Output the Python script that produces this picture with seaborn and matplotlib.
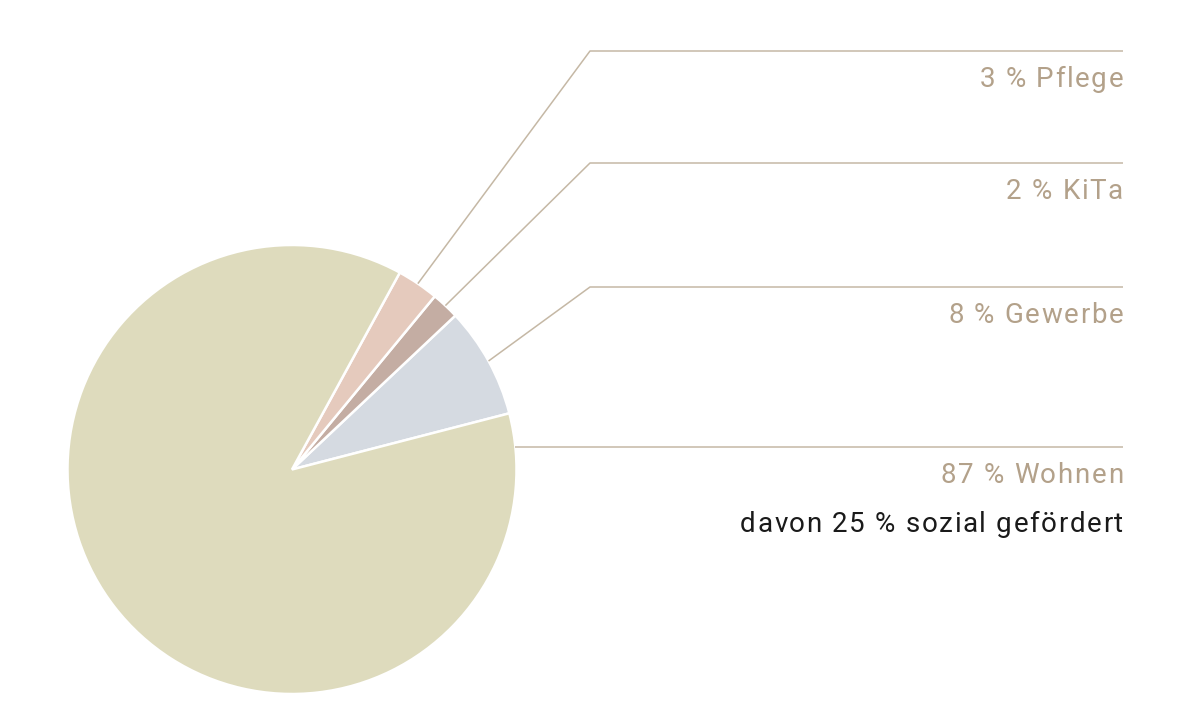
import numpy as np
import matplotlib
matplotlib.use("Agg")
import matplotlib.pyplot as plt
from matplotlib.font_manager import FontProperties
from matplotlib.textpath import TextToPath
import seaborn as sns

# data
labels = ["Gewerbe", "KiTa", "Pflege", "Wohnen"]
shares = [8, 2, 3, 87]
colors = ["#d5dae1", "#c4ada3", "#e5cabd", "#dedbbd"]
label_texts = ["8 % Gewerbe", "2 % KiTa", "3 % Pflege", "87 % Wohnen"]
sub_text = "davon 25 % sozial gefördert"

sns.set_theme(style="white")
plt.rcParams["font.family"] = ["Roboto", "DejaVu Sans"]

W, H = 1200, 724
DPI = 100
fig = plt.figure(figsize=(W / DPI, H / DPI), dpi=DPI)
ax = fig.add_axes([0, 0, 1, 1])

cx, cy, r = 292, H - 469.5, 224.5
wedges, _ = ax.pie(shares, colors=colors, startangle=14.5, counterclock=True,
                   center=(cx, cy), radius=r,
                   wedgeprops=dict(edgecolor="white", linewidth=1.8))
ax.set_xlim(0, W)
ax.set_ylim(0, H)
ax.set_aspect("equal")
ax.axis("off")

FS = 20
prop = FontProperties(family="Roboto", weight="normal", size=FS)
t2p = TextToPath()


def tracked_text(x_right, y, s, color, track=1.6):
    # letter-spaced text, right aligned at x_right (pixel units)
    widths = [t2p.get_text_width_height_descent(c, prop, ismath=False)[0] * DPI / 72
              for c in s]
    total = sum(widths) + track * (len(s) - 1)
    x = x_right - total
    for c, w in zip(s, widths):
        ax.text(x, y, c, ha="left", va="baseline", fontproperties=prop, color=color)
        x += w + track


line_col = "#c5b8a5"
text_col = "#b3a18a"
elbow_x, end_x = 590, 1123
line_y = {"Pflege": 51, "KiTa": 163, "Gewerbe": 287, "Wohnen": 447}

for w, lab, txt in zip(wedges, labels, label_texts):
    ly = H - line_y[lab]
    if lab == "Wohnen":
        ax_x = cx + np.sqrt(r ** 2 - (ly - cy) ** 2)
        xs, ys = [ax_x, end_x], [ly, ly]
    else:
        mid = np.deg2rad((w.theta1 + w.theta2) / 2)
        px, py = cx + r * np.cos(mid), cy + r * np.sin(mid)
        xs, ys = [px, elbow_x, end_x], [py, ly, ly]
    ax.plot(xs, ys, color=line_col, lw=1.1, solid_capstyle="butt")
    tracked_text(end_x, ly - 36, txt, text_col)

tracked_text(end_x, H - 532, sub_text, "#1a1a1a")

fig.savefig("out.png", dpi=DPI, facecolor="white")
